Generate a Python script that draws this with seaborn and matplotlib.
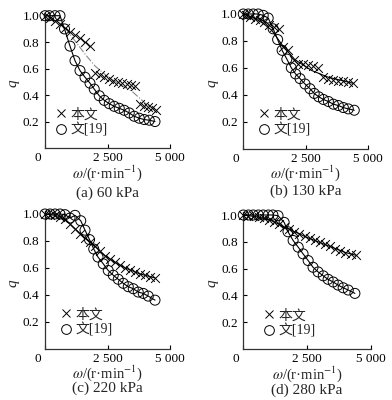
import matplotlib
matplotlib.use('Agg')
import matplotlib.pyplot as plt
import matplotlib.transforms as mtransforms
from matplotlib.lines import Line2D
import seaborn as sns

# ---- data ----
# (a) 60 kPa
a_circ_rpm = [0, 170, 400, 600, 780, 1000, 1200, 1400, 1600, 1800, 1970, 2170, 2370,
              2570, 2770, 2970, 3170, 3370, 3570, 3770, 3970, 4170, 4400]
a_circ_q = [1.0, 1.0, 1.0, 1.0, 0.90, 0.77, 0.66, 0.585, 0.535, 0.49, 0.445, 0.395, 0.36,
            0.335, 0.315, 0.30, 0.285, 0.265, 0.24, 0.225, 0.215, 0.21, 0.20]
a_cross_rpm = [0, 200, 400, 600, 800, 1000, 1200, 1400, 1600, 1800,
               2000, 2180, 2360, 2540, 2720, 2900, 3080, 3260, 3440, 3600,
               3800, 3960, 4120, 4280, 4420]
a_cross_q = [1.0, 0.985, 0.96, 0.935, 0.91, 0.88, 0.855, 0.83, 0.80, 0.77,
             0.57, 0.555, 0.54, 0.525, 0.51, 0.50, 0.49, 0.48, 0.475, 0.47,
             0.335, 0.32, 0.31, 0.30, 0.29]
a_fit_rpm = [0, 400, 800, 1200, 1600, 2000, 2500, 3000, 3500, 4000, 4400]
a_fit_q = [1.0, 0.97, 0.91, 0.81, 0.71, 0.62, 0.54, 0.48, 0.425, 0.34, 0.29]

# (b) 130 kPa
b_circ_rpm = [0, 200, 400, 600, 800, 1000, 1200, 1380, 1560, 1750, 1930, 2100, 2280,
              2480, 2680, 2850, 3030, 3220, 3420, 3620, 3820, 4020, 4220, 4460]
b_circ_q = [1.0, 1.0, 1.0, 1.0, 0.99, 0.97, 0.89, 0.81, 0.73, 0.665, 0.60, 0.555, 0.52,
            0.48, 0.445, 0.41, 0.385, 0.365, 0.35, 0.33, 0.32, 0.305, 0.295, 0.285]
b_cross_rpm = [0, 120, 280, 480, 660, 840, 1050, 1250, 1420, 1610, 1810, 2020, 2200,
               2390, 2600, 2790, 2990, 3190, 3390, 3590, 3790, 3990, 4190, 4390]
b_cross_q = [1.0, 0.99, 0.98, 0.965, 0.955, 0.94, 0.92, 0.905, 0.885, 0.755, 0.73, 0.66, 0.63,
             0.625, 0.62, 0.61, 0.60, 0.53, 0.52, 0.51, 0.505, 0.50, 0.495, 0.49]
b_fit_rpm = [0, 400, 800, 1140, 1600, 2080, 2750, 3420, 4420]
b_fit_q = [1.0, 0.975, 0.93, 0.88, 0.76, 0.66, 0.58, 0.53, 0.485]

# (c) 220 kPa
c_circ_rpm = [0, 200, 400, 600, 800, 1000, 1200, 1430, 1600, 1780, 1950, 2120, 2330,
              2530, 2730, 2930, 3130, 3330, 3530, 3730, 3930, 4130, 4400]
c_circ_q = [1.0, 1.0, 1.0, 1.0, 0.995, 0.97, 0.99, 0.95, 0.88, 0.81, 0.74, 0.68, 0.63,
            0.58, 0.545, 0.515, 0.485, 0.46, 0.445, 0.42, 0.41, 0.39, 0.36]
c_cross_rpm = [0, 200, 400, 600, 800, 1000, 1200, 1400, 1600, 1800, 2000, 2200,
               2400, 2600, 2800, 3000, 3200, 3400, 3600, 3800, 4000, 4200, 4400]
c_cross_q = [1.0, 0.995, 0.99, 0.98, 0.96, 0.925, 0.89, 0.855, 0.82, 0.795, 0.76, 0.725,
             0.69, 0.665, 0.64, 0.62, 0.60, 0.585, 0.57, 0.555, 0.545, 0.535, 0.525]

# (d) 280 kPa
d_circ_rpm = [0, 200, 390, 590, 780, 980, 1160, 1360, 1600, 1750, 1950, 2150, 2340,
              2540, 2730, 2930, 3130, 3320, 3520, 3710, 3910, 4110, 4370]
d_circ_q = [1.0, 1.0, 1.0, 1.0, 1.0, 1.0, 1.0, 0.995, 0.945, 0.875, 0.81, 0.76, 0.71,
            0.66, 0.61, 0.575, 0.546, 0.52, 0.50, 0.477, 0.457, 0.44, 0.415]
d_cross_rpm = [0, 200, 400, 600, 800, 1000, 1200, 1400, 1600, 1800, 2000, 2200,
               2400, 2600, 2800, 3000, 3200, 3400, 3600, 3800, 4000, 4200, 4400]
d_cross_q = [1.0, 0.995, 0.99, 0.985, 0.975, 0.965, 0.95, 0.93, 0.91, 0.895, 0.875, 0.86,
             0.84, 0.825, 0.81, 0.795, 0.78, 0.765, 0.75, 0.735, 0.72, 0.71, 0.70]

captions = ['(a) 60 kPa', '(b) 130 kPa', '(c) 220 kPa', '(d) 280 kPa']
legend_labels = ['本文', '文[19]']
x_ticks = [0, 2500, 5000]
x_tick_labels = ['0', '2 500', '5 000']
y_ticks = [0.2, 0.4, 0.6, 0.8, 1.0]
y_tick_labels = ['0.2', '0.4', '0.6', '0.8', '1.0']

sns.set_style('ticks')
plt.rcParams['font.family'] = ['Liberation Serif', 'Noto Sans CJK SC']
plt.rcParams['mathtext.fontset'] = 'stix'

W, H = 392, 400
fig = plt.figure(figsize=(W / 100, H / 100), dpi=100)

# panel layout in pixels: left, right, y of q=0, y of q=1
boxes = [(45, 170, 148, 15.7), (243.3, 367.7, 148.6, 14), (45, 170, 348.6, 214), (243.3, 371, 349, 215)]
legend_pos = [(55, 108), (258, 108), (60, 308), (263, 309)]
caption_drop = [45, 43, 40, 41]   # px below the x axis

panels = [
    (a_circ_rpm, a_circ_q, a_cross_rpm, a_cross_q, a_fit_rpm, a_fit_q, '#8a8a8a', '-.'),
    (b_circ_rpm, b_circ_q, b_cross_rpm, b_cross_q, b_fit_rpm, b_fit_q, 'black', '-'),
    (c_circ_rpm, c_circ_q, c_cross_rpm, c_cross_q, c_cross_rpm, c_cross_q, 'black', '-'),
    (d_circ_rpm, d_circ_q, d_cross_rpm, d_cross_q, d_cross_rpm, d_cross_q, 'black', '-'),
]

ymax = 1.02
for i, (cx, cq, xx, xq, fx, fq, fcol, fls) in enumerate(panels):
    left, right, y0, y1 = boxes[i]
    unit = y0 - y1
    top = y0 - unit * ymax
    ax = fig.add_axes([left / W, 1 - y0 / H, (right - left) / W, (y0 - top) / H])

    sns.lineplot(x=cx, y=cq, color='black', lw=0.8, sort=False, estimator=None, ax=ax)
    sns.lineplot(x=fx, y=fq, color=fcol, lw=0.8, ls=fls, sort=False, estimator=None, ax=ax)
    sns.scatterplot(x=xx, y=xq, marker='x', color='black', s=40, linewidth=0.7,
                    clip_on=False, zorder=3, ax=ax)
    sns.scatterplot(x=cx, y=cq, marker='o', facecolor='none', edgecolor='black', s=52,
                    linewidth=0.7, clip_on=False, zorder=3, ax=ax)

    ax.set_xlim(0, 5000)
    ax.set_ylim(0, ymax)
    ax.set_xticks(x_ticks)
    ax.set_xticklabels(x_tick_labels)
    ax.set_yticks(y_ticks)
    ax.set_yticklabels(y_tick_labels)
    ax.tick_params(direction='in', length=3, width=0.8, labelsize=9.5, colors='black')
    ax.tick_params(axis='x', pad=3)
    ax.tick_params(axis='y', pad=4)
    sns.despine(ax=ax)
    for sp in ['left', 'bottom']:
        ax.spines[sp].set_linewidth(0.9)
        ax.spines[sp].set_color('#333333')

    # the "0" label sits a little left of the spine in the reference
    lab0 = ax.get_xticklabels()[0]
    lab0.set_transform(lab0.get_transform() + mtransforms.ScaledTranslation(-0.07, 0, fig.dpi_scale_trans))

    ax.set_ylabel('q', fontsize=11, style='italic')
    ax.yaxis.set_label_coords(-25 / (right - left), 0.48)
    ax.set_xlabel('')
    ax.annotate(r'$\omega$/(r·min$^{-1}$)', xy=(0.5, 0), xycoords='axes fraction', xytext=(0, -25 * 0.72),
                textcoords='offset points', ha='center', va='center', fontsize=10.5)
    ax.annotate(captions[i], xy=(0.5, 0), xycoords='axes fraction', xytext=(0, -caption_drop[i] * 0.72),
                textcoords='offset points', ha='center', va='center', fontsize=11)

    handles = [Line2D([], [], marker='x', ls='none', color='black', markersize=6.3, mew=0.7),
               Line2D([], [], marker='o', ls='none', mfc='none', mec='black', markersize=7, mew=0.7)]
    lx, ly = legend_pos[i]
    ax.legend(handles, legend_labels, loc='upper left', bbox_to_anchor=(lx / W, 1 - ly / H),
              bbox_transform=fig.transFigure, frameon=False, borderpad=0, borderaxespad=0,
              handlelength=0.8, handletextpad=0.3, labelspacing=0.1, fontsize=10)

fig.savefig('out.png', dpi=100)
